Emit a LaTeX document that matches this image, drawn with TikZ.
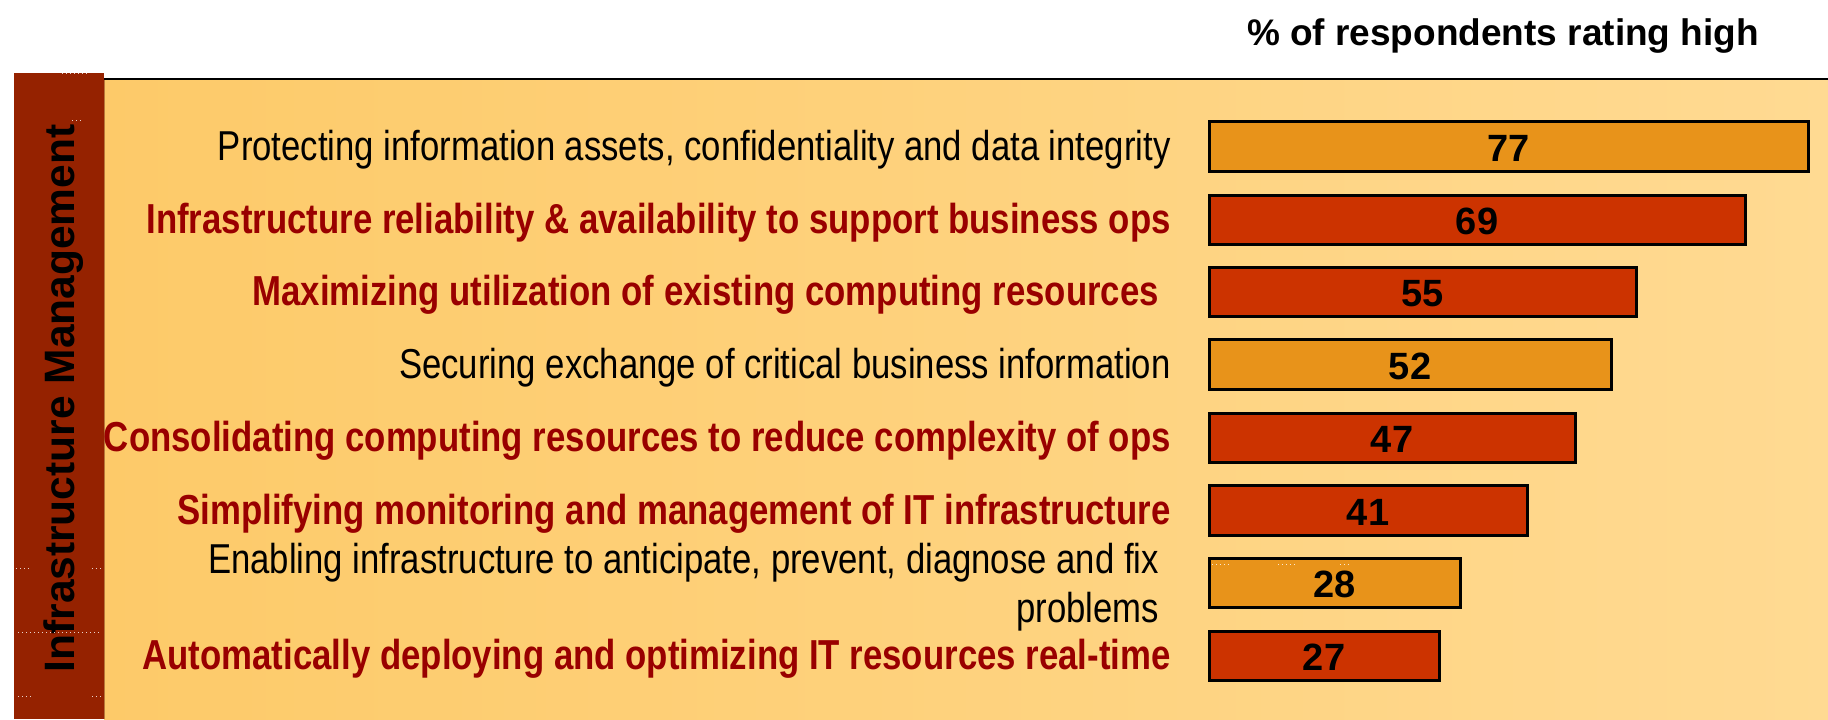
\documentclass[tikz,border=0pt]{standalone}
\usepackage{fontspec}
\setmainfont{Liberation Sans}[FakeStretch=0.83]
\newfontfamily\widefont{Liberation Sans}
\definecolor{hired}{HTML}{990000}
\definecolor{barred}{HTML}{CC3300}
\definecolor{barorange}{HTML}{E8931A}
\definecolor{sidebar}{HTML}{952200}
\definecolor{bgleft}{HTML}{FDCA69}
\definecolor{bgright}{HTML}{FFDA92}
\definecolor{sideedge}{HTML}{B8773A}
\tikzset{
  lbl/.style={anchor=base east, inner sep=0pt, font=\fontsize{20.9}{24.5}\selectfont},
  lblhi/.style={lbl, text=hired, font=\fontsize{20.95}{24.5}\selectfont\bfseries},
  barbox/.style={draw=black, line width=1.5pt},
  num/.style={inner sep=0pt, font=\widefont\bfseries\fontsize{19}{19}\selectfont},
  speck/.style={white, line width=0.5pt, dash pattern=on 0.5pt off 1.5pt, opacity=0.8}
}
\begin{document}
\begin{tikzpicture}[x=0.5pt,y=-0.5pt]
\useasboundingbox (0,0) rectangle (1828,719);
\fill[white] (0,0) rectangle (1828,719);
% background
\shade[left color=bgleft, right color=bgright] (104,80) rectangle (1828,719);
\draw[black, line width=1.1pt] (104,79) -- (1828,79);
% side bar
\fill[sidebar] (14,73) rectangle (104,719);
\draw[sideedge, line width=0.5pt] (104,80) -- (104,719);
\node[rotate=90, anchor=base, inner sep=0pt, font=\widefont\bfseries\fontsize{21.25}{21.25}\selectfont] (side) at (74,398.5) {Infrastructure Management};
% specks
\draw[speck] (62,73) -- (88,73);
\draw[speck] (72,120) -- (84,120);
\draw[speck] (16,568) -- (32,568);
\draw[speck] (92,568) -- (104,568);
\draw[speck] (18,632) -- (100,632);
\draw[speck] (18,696) -- (34,696);
\draw[speck] (92,696) -- (104,696);
% title
\node[anchor=base, inner sep=0pt, font=\widefont\bfseries\fontsize{18.5}{18.5}\selectfont] (title) at (1503,45) {\% of respondents rating high};
% bars
\draw[barbox, fill=barorange] (1209,121) rectangle (1808,171);
\draw[barbox, fill=barred]    (1209,195) rectangle (1745,244);
\draw[barbox, fill=barred]    (1209,267) rectangle (1636,316);
\draw[barbox, fill=barorange] (1209,339) rectangle (1611,389);
\draw[barbox, fill=barred]    (1209,413) rectangle (1575,462);
\draw[barbox, fill=barred]    (1209,485) rectangle (1527,535);
\draw[barbox, fill=barorange] (1209,558) rectangle (1460,607);
\draw[barbox, fill=barred]    (1209,631) rectangle (1439,680);
\draw[speck] (1212,564) -- (1232,564);
\draw[speck] (1278,564) -- (1296,564);
\draw[speck] (1340,564) -- (1350,564);
% values
\node[num] (v1) at (1508.5,148) {77};
\node[num] (v2) at (1477,221.5) {69};
\node[num] (v3) at (1422.5,293.5) {55};
\node[num] (v4) at (1410,366) {52};
\node[num] (v5) at (1392,439.5) {47};
\node[num] (v6) at (1368,512) {41};
\node[num] (v7) at (1334.5,584.5) {28};
\node[num] (v8) at (1324,657.5) {27};
% labels
\node[lbl]   (l1) at (1171,160)   {Protecting information assets, confidentiality and data integrity};
\node[lblhi] (l2) at (1171,233.5) {Infrastructure reliability \& availability to support business ops};
\node[lblhi] (l3) at (1171,305.5) {Maximizing utilization of existing computing resources\hspace*{0.28em}};
\node[lbl]   (l4) at (1171,378)   {Securing exchange of critical business information};
\node[lblhi] (l5) at (1171,451.5) {Consolidating computing resources to reduce complexity of ops};
\node[lblhi] (l6) at (1171,524)   {Simplifying monitoring and management of IT infrastructure};
\node[lbl, align=right] (l7) at (1171,622) {Enabling infrastructure to anticipate, prevent, diagnose and fix\hspace*{0.28em}\\problems\hspace*{0.28em}};
\node[lblhi] (l8) at (1171,669.5) {Automatically deploying and optimizing IT resources real-time};
\end{tikzpicture}
\end{document}
